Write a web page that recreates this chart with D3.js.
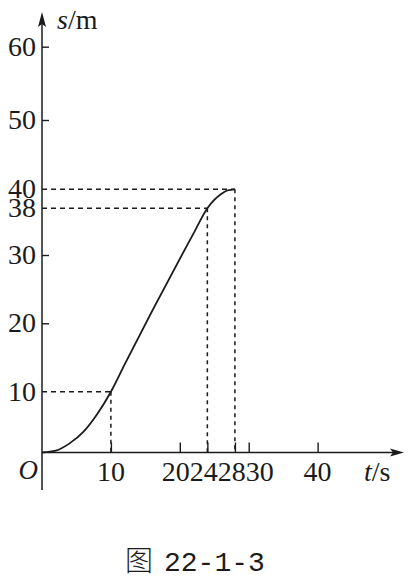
<!DOCTYPE html>
<html>
<head>
<meta charset="utf-8">
<script src="https://cdn.jsdelivr.net/npm/d3@7"></script>
<style>
  body { margin: 0; background: #fff; }
  svg text { font-family: "Liberation Serif", "Times New Roman", serif; fill: #1b1b1b; }
</style>
</head>
<body>
<div id="chart"></div>
<script>
// tick values on both axes
const yTicks = [10, 20, 30, 38, 40, 50, 60];
const xTicks = [10, 20, 24, 28, 30, 40];

// s-t curve
const curveT = [0, 2, 4, 6, 8, 10, 12, 22, 24, 26, 27, 28];
const curveS = [0, 0.3, 1.5, 3.4, 6.3, 10, 14, 33.7, 38, 39.5, 39.9, 40];

// points marked with dashed guide lines
const markT = [10, 24, 28];
const markS = [10, 38, 40];

const W = 411, H = 584;
const ink = "#1b1b1b";

const svg = d3.select("#chart").append("svg")
    .attr("width", W)
    .attr("height", H);

// the printed figure is not evenly spaced on s, so the y scale is polylinear
const y = d3.scaleLinear()
    .domain([0, 10, 20, 30, 38, 40, 50, 60])
    .range([452.5, 391.7, 323.3, 255, 208.3, 189.3, 120, 46.7]);
const x = d3.scaleLinear().domain([0, 40]).range([42, 317.6]);

const x0 = x(0), y0 = y(0);

//axes lines + arrows
svg.append("line")
    .attr("x1", x0).attr("y1", 490).attr("x2", x0).attr("y2", 20)
    .attr("stroke", ink).attr("stroke-width", 1.5);
svg.append("path")
    .attr("d", `M${x0},12 L${x0 + 4},27 L${x0},24 L${x0 - 4},27 Z`)
    .attr("fill", ink);

svg.append("line")
    .attr("x1", x0).attr("y1", y0).attr("x2", 396).attr("y2", y0)
    .attr("stroke", ink).attr("stroke-width", 1.5);
svg.append("path")
    .attr("d", `M404,${y0} L390,${y0 - 4} L393,${y0} L390,${y0 + 4} Z`)
    .attr("fill", ink);

//ticks
const yAxis = svg.append("g")
    .attr("transform", `translate(${x0},0)`)
    .call(d3.axisRight(y).tickValues(yTicks.filter(v => !markS.includes(v))).tickSize(7).tickFormat(""));
const xAxis = svg.append("g")
    .attr("transform", `translate(0,${y0})`)
    .call(d3.axisTop(x).tickValues(xTicks).tickSize(10).tickFormat(""));
[yAxis, xAxis].forEach(g => {
    g.select(".domain").remove();
    g.selectAll("line").attr("stroke", ink).attr("stroke-width", 1.4);
});

//dashed guides
const marks = markT.map((t, i) => ({ t: t, s: markS[i] }));
svg.selectAll(".guide-h")
    .data(marks)
  .enter().append("line")
    .attr("x1", x0).attr("x2", d => x(d.t))
    .attr("y1", d => y(d.s)).attr("y2", d => y(d.s))
    .attr("stroke", ink).attr("stroke-width", 1.5).attr("stroke-dasharray", "5,4");
svg.selectAll(".guide-v")
    .data(marks)
  .enter().append("line")
    .attr("x1", d => x(d.t)).attr("x2", d => x(d.t))
    .attr("y1", d => y(d.s)).attr("y2", y0)
    .attr("stroke", ink).attr("stroke-width", 1.5).attr("stroke-dasharray", "4,4");

//the curve
const pts = curveT.map((t, i) => [t, curveS[i]]);
const line = d3.line()
    .x(d => x(d[0]))
    .y(d => y(d[1]))
    .curve(d3.curveMonotoneX);
svg.append("path")
    .attr("d", line(pts))
    .attr("fill", "none")
    .attr("stroke", ink)
    .attr("stroke-width", 1.8);

//y labels
svg.selectAll(".ylab")
    .data(yTicks)
  .enter().append("text")
    .attr("x", 36)
    .attr("y", d => y(d) + 9)
    .attr("text-anchor", "end")
    .attr("font-size", 28)
    .text(d => d);

//x labels: crowded labels are packed side by side around the mean of their ticks
const fs = 28;
const xl = svg.selectAll(".xlab")
    .data(xTicks)
  .enter().append("text")
    .attr("y", 481)
    .attr("text-anchor", "middle")
    .attr("font-size", fs)
    .text(d => d);
const widths = [];
xl.each(function() { widths.push(this.getComputedTextLength()); });
const groups = [];
xTicks.forEach((v, i) => {
    const last = groups[groups.length - 1];
    if (last && x(v) - x(xTicks[last[last.length - 1]]) < (widths[i] + widths[i - 1]) / 2) last.push(i);
    else groups.push([i]);
});
const cx = new Array(xTicks.length);
groups.forEach(g => {
    const total = d3.sum(g, i => widths[i]);
    const mid = d3.mean(g, i => x(xTicks[i]));
    let left = mid - total / 2;
    g.forEach(i => { cx[i] = left + widths[i] / 2; left += widths[i]; });
});
xl.attr("x", (d, i) => cx[i]);

//origin and axis titles
svg.append("text")
    .attr("x", 38).attr("y", 479)
    .attr("text-anchor", "end")
    .attr("font-size", 27)
    .attr("font-style", "italic")
    .text("O");

const sTitle = svg.append("text").attr("x", 57).attr("y", 29).attr("font-size", 28);
sTitle.append("tspan").attr("font-style", "italic").text("s");
sTitle.append("tspan").text("/m");

const tTitle = svg.append("text").attr("x", 364).attr("y", 481).attr("font-size", 28);
tTitle.append("tspan").attr("font-style", "italic").text("t");
tTitle.append("tspan").text("/s");

//caption
const cap = svg.append("text").attr("x", 125).attr("y", 571).attr("font-size", 28);
cap.append("tspan")
    .style("font-family", "'Noto Sans CJK SC', sans-serif")
    .attr("font-weight", 300)
    .text("图");
cap.append("tspan")
    .attr("x", 164)
    .style("font-family", "'Liberation Mono', monospace")
    .text("22-1-3");
</script>
</body>
</html>
